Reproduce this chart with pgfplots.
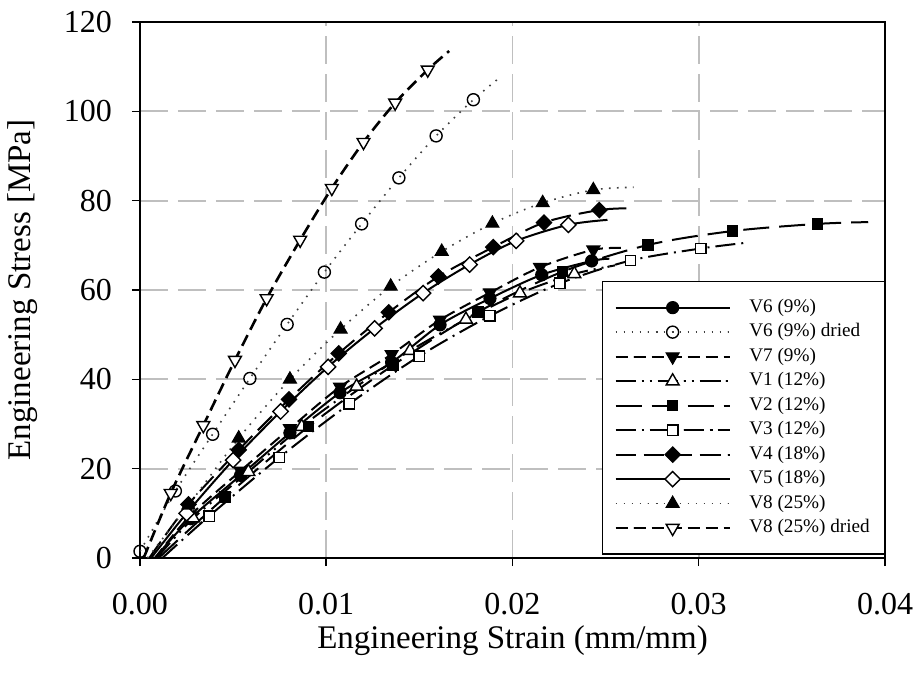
\documentclass[border=0pt]{standalone}
\usepackage{fontspec}
\setmainfont{Liberation Serif}
\usepackage{pgfplots}
\pgfplotsset{compat=1.18}
\begin{document}
\begin{tikzpicture}
\useasboundingbox (-70pt,-61pt) rectangle (390.5pt,279pt);
\begin{axis}[
  scale only axis, width=372.5pt, height=268pt,
  at={(0pt,0pt)}, anchor=south west,
  xmin=0, xmax=0.04, ymin=0, ymax=120,
  xtick={0,0.01,0.02,0.03,0.04}, ytick={0,20,40,60,80,100,120},
  scaled x ticks=false,
  /pgf/number format/assume math mode=true,
  x tick label style={/pgf/number format/fixed,/pgf/number format/precision=2,/pgf/number format/fixed zerofill, yshift=-10pt},
  y tick label style={xshift=-6.5pt},
  tick label style={font=\fontsize{16}{19}\selectfont},
  label style={font=\fontsize{16.5}{20}\selectfont},
  xlabel={Engineering Strain (mm/mm)},
  ylabel={Engineering Stress [MPa]},
  x label style={at={(axis description cs:0.5,-0.155)},anchor=center},
  y label style={at={(axis description cs:-0.158,0.5)},anchor=center},
  tick align=outside, major tick length=4pt,
  xtick pos=left, ytick pos=left,
  axis line style={line width=0.75pt},
  tick style={line width=0.75pt, black},
  grid=major,
  major grid style={draw=black!25, line width=0.9pt, dash pattern=on 14pt off 5pt},
  legend style={at={(1,0.006)}, anchor=south east, draw=black, line width=0.75pt,
    font=\fontsize{9.6}{11}\selectfont, inner xsep=6pt, inner ysep=7pt,
    row sep=0.35pt, column sep=8pt, nodes={text height=7pt, text depth=2.5pt, inner sep=1.2pt}},
  legend cell align=left,
  legend image code/.code={\draw[mark indices={2}] plot coordinates {(0pt,0pt) (28.5pt,0pt) (57pt,0pt)};},
]
% V6 (9%)
\addplot[black, line width=1pt, smooth, mark=*, mark size=3pt, mark options={solid,fill=black,line width=0.6pt}, mark indices={2,3,4,5,6,7,8,9,10}] coordinates {
(0.0008,0) (0.0027,8.8) (0.0054,18.5) (0.00805,28) (0.01074,37) (0.01351,43.8) (0.01611,52.2) (0.01879,58.1) (0.02157,63.4) (0.02425,66.5) (0.0252,67)};
\addlegendentry{V6 (9\%)}
% V6 (9%) dried
\addplot[black!75, line width=0.8pt, smooth, dash pattern=on 0.8pt off 3.2pt, mark=o, mark size=3pt, mark options={solid,draw=black,fill=white,line width=0.7pt}, mark indices={1,2,3,4,5,6,7,8,9,10}] coordinates {
(0,1.5) (0.0019,15) (0.0039,27.7) (0.0059,40.2) (0.0079,52.3) (0.0099,64) (0.0119,74.8) (0.0139,85.1) (0.0159,94.5) (0.0179,102.6) (0.0193,107.5)};
\addlegendentry{V6 (9\%) dried}
% V7 (9%)
\addplot[black, line width=1pt, smooth, dash pattern=on 6pt off 3pt, mark=triangle*, mark size=3.7pt, mark options={solid,fill=black,rotate=180,line width=0.6pt}, mark indices={2,3,4,5,6,7,8,9,10}] coordinates {
(0.0008,0) (0.0027,9.5) (0.0054,19.5) (0.00805,29) (0.01074,38.3) (0.01351,45.6) (0.01611,53.3) (0.01879,59.4) (0.02148,65.1) (0.02434,69) (0.0260,69.4)};
\addlegendentry{V7 (9\%)}
% V1 (12%)
\addplot[black, line width=1pt, smooth, dash pattern=on 10pt off 3pt on 1pt off 3pt on 1pt off 3pt, mark=triangle*, mark size=3.7pt, mark options={solid,fill=white,draw=black,line width=0.7pt}, mark indices={2,3,4,5,6,7,8,9}] coordinates {
(0.0009,0) (0.00286,8.9) (0.00582,19.3) (0.00868,29.4) (0.01163,38.4) (0.0145,46.4) (0.0175,53.4) (0.0204,59.3) (0.02332,63.6) (0.0255,65.5)};
\addlegendentry{V1 (12\%)}
% V2 (12%)
\addplot[black, line width=1pt, smooth, dash pattern=on 13pt off 5pt, mark=square*, mark size=2.6pt, mark options={solid,fill=black,line width=0.6pt}, mark indices={2,3,4,5,6,7,8,9}] coordinates {
(0.0010,0) (0.00456,13.6) (0.00904,29.4) (0.0136,43.2) (0.01816,55.1) (0.02269,64.1) (0.02729,70.1) (0.03182,73.2) (0.03638,74.8) (0.0391,75.2)};
\addlegendentry{V2 (12\%)}
% V3 (12%)
\addplot[black, line width=1pt, smooth, dash pattern=on 10pt off 3pt on 1pt off 3pt, mark=square*, mark size=2.6pt, mark options={solid,fill=white,draw=black,line width=0.7pt}, mark indices={2,3,4,5,6,7,8,9}] coordinates {
(0.0012,0) (0.00372,9.4) (0.00748,22.5) (0.01124,34.5) (0.015,45.2) (0.01879,54.2) (0.02255,61.5) (0.02634,66.6) (0.03012,69.3) (0.0324,70.5)};
\addlegendentry{V3 (12\%)}
% V4 (18%)
\addplot[black, line width=1pt, smooth, dash pattern=on 10pt off 4pt, mark=square*, mark size=2.7pt, mark options={solid,fill=black,rotate=45,line width=0.6pt}, mark indices={2,3,4,5,6,7,8,9,10}] coordinates {
(0.0005,0) (0.0026,12) (0.0053,24.2) (0.0080,35.5) (0.01067,45.8) (0.01336,55) (0.01602,63) (0.01897,69.6) (0.02169,75.1) (0.02466,77.9) (0.0265,78.3)};
\addlegendentry{V4 (18\%)}
% V5 (18%)
\addplot[black, line width=1pt, smooth, mark=square*, mark size=2.7pt, mark options={solid,fill=white,draw=black,rotate=45,line width=0.7pt}, mark indices={2,3,4,5,6,7,8,9,10}] coordinates {
(0.0006,0) (0.0025,10) (0.0050,21.9) (0.00755,32.8) (0.0101,42.8) (0.0126,51.4) (0.0152,59.3) (0.0177,65.7) (0.0202,71) (0.0230,74.6) (0.0251,75.7)};
\addlegendentry{V5 (18\%)}
% V8 (25%)
\addplot[black!75, line width=0.8pt, smooth, dash pattern=on 0.8pt off 3.2pt, mark=triangle*, mark size=3.7pt, mark options={solid,fill=black,draw=black,line width=0.6pt}, mark indices={2,3,4,5,6,7,8,9,10}] coordinates {
(0.0004,0) (0.0026,11.8) (0.0053,26.8) (0.00805,40) (0.01077,51.2) (0.01346,60.8) (0.0162,68.6) (0.01892,74.9) (0.02162,79.5) (0.02434,82.4) (0.0265,83)};
\addlegendentry{V8 (25\%)}
% V8 (25%) dried
\addplot[black, line width=1.3pt, smooth, dash pattern=on 6pt off 3pt, mark=triangle*, mark size=3.7pt, mark options={solid,fill=white,draw=black,rotate=180,line width=0.7pt}, mark indices={2,3,4,5,6,7,8,9,10}] coordinates {
(0.0002,0) (0.00165,14.5) (0.0034,29.7) (0.0051,44.3) (0.0068,58.1) (0.0086,71.2) (0.0103,82.8) (0.0120,93.1) (0.0137,101.9) (0.01545,109.3) (0.0166,113.5)};
\addlegendentry{V8 (25\%) dried}
\end{axis}
\end{tikzpicture}
\end{document}
